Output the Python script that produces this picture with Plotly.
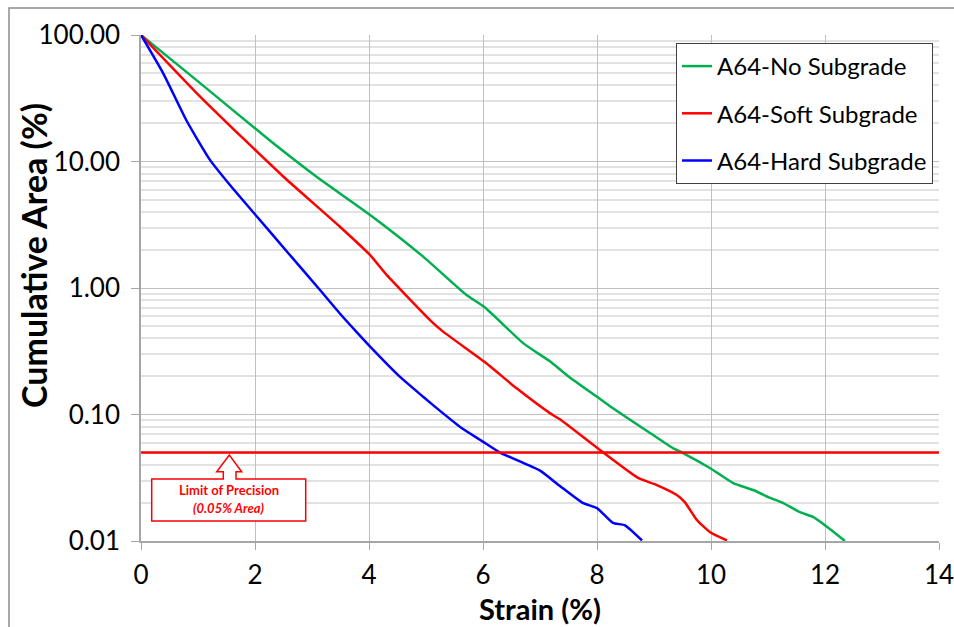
import plotly.graph_objects as go

# ---- data ----
x_no = [0, 1, 2.25, 3.08, 4.02, 4.95, 5.71, 6.02, 6.71, 7.18, 7.5, 8.0, 8.28, 8.93, 9.33, 9.51, 9.98, 10.39, 10.74, 11.04, 11.26, 11.56, 11.79, 12.04, 12.35]
y_no = [100, 43, 14.8, 7.58, 3.78, 1.77, 0.88, 0.71, 0.365, 0.262, 0.20, 0.138, 0.112, 0.0714, 0.0543, 0.0496, 0.0378, 0.0287, 0.0253, 0.0219, 0.0200, 0.0169, 0.0155, 0.0129, 0.0100]

x_soft = [0, 0.98, 1.82, 2.50, 3.49, 4.02, 4.31, 5.07, 5.30, 6.02, 6.59, 7.18, 7.35, 8.05, 8.72, 9.05, 9.40, 9.54, 9.75, 9.98, 10.28]
y_soft = [100, 34.6, 14.8, 7.58, 3.05, 1.82, 1.27, 0.558, 0.452, 0.262, 0.161, 0.102, 0.0916, 0.0524, 0.0315, 0.0277, 0.0231, 0.0203, 0.0147, 0.0118, 0.0101]

x_hard = [0, 0.39, 0.8, 1.21, 1.56, 2.01, 2.6, 3.14, 3.5, 3.78, 4.02, 4.54, 4.95, 5.30, 5.63, 6.0, 6.3, 7.0, 7.35, 7.75, 8.0, 8.28, 8.49, 8.79]
y_hard = [100, 49.8, 21, 10.3, 6.52, 3.78, 1.85, 0.964, 0.62, 0.45, 0.344, 0.199, 0.138, 0.102, 0.0778, 0.061, 0.05, 0.036, 0.0272, 0.0200, 0.0182, 0.0139, 0.0133, 0.0101]

limit_x = [0, 14]
limit_y = [0.05, 0.05]

series_names = ["A64-No Subgrade", "A64-Soft Subgrade", "A64-Hard Subgrade"]
series_colors = ["#00b050", "#ff0000", "#0000ff"]

y_tickvals = [0.01, 0.1, 1, 10, 100]
y_ticktext = ["0.01", "0.10", "1.00", "10.00", "100.00"]
y_minor = [m * d for d in [0.01, 0.1, 1, 10] for m in range(2, 10)]
x_tickvals = [0, 2, 4, 6, 8, 10, 12, 14]

FONT = "Lato"

fig = go.Figure()
for i, (xs, ys) in enumerate([(x_no, y_no), (x_soft, y_soft), (x_hard, y_hard)]):
    fig.add_trace(go.Scatter(
        x=xs, y=ys, mode="lines", name=series_names[i],
        line=dict(color=series_colors[i], width=2.5, shape="spline", smoothing=0.5),
        legendgroup=f"g{i}",
    ))

fig.add_trace(go.Scatter(
    x=limit_x, y=limit_y, mode="lines", showlegend=False,
    line=dict(color="#ff0000", width=2.5), hoverinfo="skip",
))

# plot-area pixel geometry helpers
L, R, T, B = 141, 939, 35, 541
W, H = R - L, B - T
def px(xp):
    return (xp - L) / W
def py(yp):
    return (B - yp) / H

# callout box with up arrow
bl, br, bt, bb = px(151.7), px(305.7), py(479), py(521)
sl, sr = px(223.3), px(236)
hl, hr = px(216.7), px(241.7)
hb = py(471.7)
tipx, tipy = px(229.3), py(455)
path = (f"M {bl},{bb} L {bl},{bt} L {sl},{bt} L {sl},{hb} L {hl},{hb} L {tipx},{tipy} "
        f"L {hr},{hb} L {sr},{hb} L {sr},{bt} L {br},{bt} L {br},{bb} Z")

shapes = [
    dict(type="path", path=path, xref="paper", yref="paper",
         line=dict(color="#ff0000", width=1.5), fillcolor="white", layer="above"),
    # outer chart frame
    dict(type="rect", xref="paper", yref="paper",
         x0=px(9), x1=px(970), y0=py(640), y1=py(8),
         line=dict(color="#8c8c8c", width=1.5), fillcolor="rgba(0,0,0,0)", layer="below"),
]

annotations = [
    dict(x=(bl + br) / 2, y=py(490), xref="paper", yref="paper", showarrow=False,
         xanchor="center", yanchor="middle",
         text="<b>Limit of Precision</b>", font=dict(family=FONT, size=13, color="#ff0000")),
    dict(x=(bl + br) / 2, y=py(508), xref="paper", yref="paper", showarrow=False,
         xanchor="center", yanchor="middle",
         text="<b><i>(0.05% Area)</i></b>", font=dict(family=FONT, size=13, color="#ff0000")),
    # axis titles
    dict(x=px(33), y=py(256), xref="paper", yref="paper", showarrow=False,
         xanchor="center", yanchor="middle", textangle=-90,
         text="<b>Cumulative Area (%)</b>", font=dict(family=FONT, size=34, color="#000000")),
    dict(x=px(540), y=py(608), xref="paper", yref="paper", showarrow=False,
         xanchor="center", yanchor="middle",
         text="<b>Strain (%)</b>", font=dict(family=FONT, size=29, color="#000000")),
]

fig.update_layout(
    width=954, height=627,
    margin=dict(l=L, r=954 - R, t=T, b=627 - B, autoexpand=False),
    paper_bgcolor="white", plot_bgcolor="white",
    font=dict(family=FONT, size=24, color="#000000"),
    showlegend=True,
    legend=dict(
        x=px(676), y=py(43), xanchor="left", yanchor="top",
        bordercolor="#404040", borderwidth=1, bgcolor="white",
        font=dict(family=FONT, size=24, color="#000000"),
        tracegroupgap=13, traceorder="grouped",
    ),
    shapes=shapes,
    annotations=annotations,
    xaxis=dict(
        range=[0, 14], tickvals=x_tickvals, ticks="outside", ticklen=7,
        tickcolor="#a6a6a6", showline=True, linecolor="#a6a6a6", linewidth=1.5,
        showgrid=True, gridcolor="#bfbfbf", gridwidth=1.2, zeroline=False,
        automargin=False, ticklabelstandoff=3, ticklabeloverflow="allow",
        tickfont=dict(family=FONT, size=26),
    ),
    yaxis=dict(
        type="log", range=[-2, 2], tickvals=y_tickvals, ticktext=y_ticktext,
        ticks="outside", ticklen=8, tickcolor="#a6a6a6",
        showline=True, linecolor="#a6a6a6", linewidth=1.5,
        showgrid=True, gridcolor="#bfbfbf", gridwidth=1.2, zeroline=False,
        automargin=False, ticklabelstandoff=6, ticklabeloverflow="allow",
        minor=dict(tickvals=y_minor, showgrid=True, gridcolor="#e2e2e2", gridwidth=1.5, ticks=""),
        tickfont=dict(family=FONT, size=26),
    ),
)

fig.write_html("out.html")
